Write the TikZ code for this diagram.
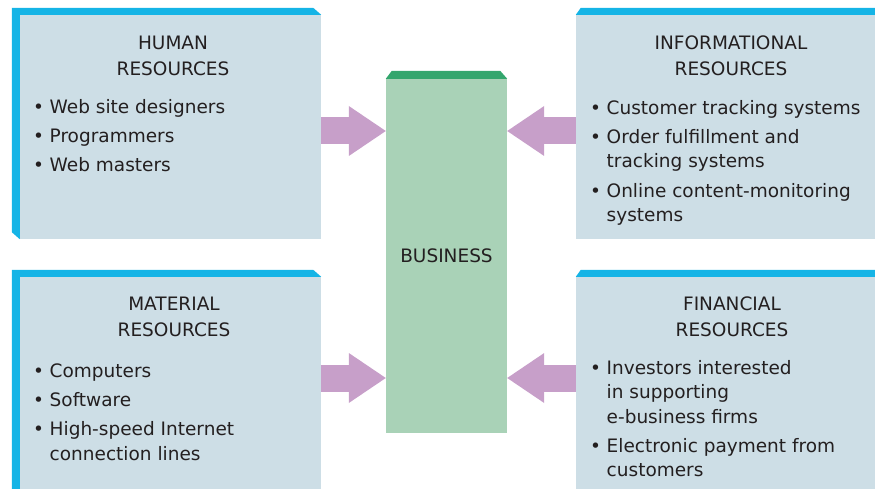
\documentclass[tikz,border=0pt]{standalone}
\usepackage{fontspec}
\setmainfont{DejaVu Sans}
\usetikzlibrary{positioning,arrows.meta}

\definecolor{boxbg}{HTML}{CDDEE6}
\definecolor{boxedge}{HTML}{15B4E6}
\definecolor{arrowc}{HTML}{C79FC9}
\definecolor{bizbg}{HTML}{A9D2B7}
\definecolor{biztop}{HTML}{33A66D}
\definecolor{ink}{HTML}{231F20}

\newcommand{\itm}{\makebox[16.5pt][l]{\textbullet}}
\newcommand{\cnt}{\makebox[16.5pt][l]{}}

\begin{document}
\begin{tikzpicture}[
  x=1pt, y=-1pt,
  font=\fontsize{18.5}{24.5}\selectfont, text=ink,
  res/.style={fill=boxbg, inner sep=0pt, minimum width=301pt, minimum height=224pt},
  resl/.style={res, minimum height=212pt},
  resr/.style={res, minimum width=299pt},
  resrl/.style={resr, minimum height=212pt},
  edge/.style={fill=boxedge},
  head/.style={anchor=base, align=center, inner sep=0pt, font=\fontsize{18.5}{26}\selectfont},
  list/.style={anchor=base west, align=left, inner sep=0pt},
  biz/.style={fill=bizbg, inner sep=0pt, minimum width=121pt, minimum height=354pt},
  fat/.style={line width=27pt, draw=arrowc, -{Triangle[width=50pt,length=37pt,line width=0pt]}}
]
\useasboundingbox (0,0) rectangle (875,489);

% Resource boxes
\node[res] (hr) at (170.5,127) {};
\node[resl] (mr) at (170.5,383) {};
\node[resr] (ir) at (725.5,127) {};
\node[resrl] (fr) at (725.5,383) {};

% Blue edges
\fill[edge] ([shift={(-8,-7)}]hr.north west) -- ([shift={(-8,-7)}]hr.north east) -- (hr.north east)
  -- (hr.north west) -- (hr.south west) -- ([shift={(-8,-7)}]hr.south west) -- cycle;
\fill[edge] ([shift={(-8,-7)}]mr.north west) -- ([shift={(-8,-7)}]mr.north east) -- (mr.north east)
  -- (mr.north west) -- (mr.south west) -- ([shift={(-8,0)}]mr.south west) -- cycle;
\fill[edge] (ir.north west) -- ([shift={(5,-7)}]ir.north west) -- ([shift={(0,-7)}]ir.north east) -- (ir.north east) -- cycle;
\fill[edge] (fr.north west) -- ([shift={(5,-7)}]fr.north west) -- ([shift={(0,-7)}]fr.north east) -- (fr.north east) -- cycle;

% Business
\node[biz] (bz) at (446.5,256) {BUSINESS};
\fill[biztop] (bz.north west) -- ([shift={(6,-8)}]bz.north west) -- ([shift={(-7,-8)}]bz.north east) -- (bz.north east) -- cycle;

% Headings (base = last line)
\node[head] (hh) at (173,76) {HUMAN\\RESOURCES};
\node[head] (ih) at (731,76) {INFORMATIONAL\\RESOURCES};
\node[head] (mh) at (174,336.5) {MATERIAL\\RESOURCES};
\node[head] (fh) at (732,336.5) {FINANCIAL\\RESOURCES};

% Lists (base = last line)
\node[list] (hl) at (33,172) {\itm Web site designers\\[4.8pt]\itm Programmers\\[4.8pt]\itm Web masters};
\node[list] (il) at (590,221.5) {\itm Customer tracking systems\\[4.6pt]\itm Order fulfillment and\\\cnt tracking systems\\[4.6pt]
  \itm Online content-monitoring\\\cnt systems};
\node[list] (ml) at (33,460) {\itm Computers\\[4.6pt]\itm Software\\[4.6pt]\itm High-speed Internet\\\cnt connection lines};
\node[list] (fl) at (590,476.5) {\itm Investors interested\\\cnt in supporting\\\cnt e-business firms\\[4.2pt]
  \itm Electronic payment from\\\cnt customers};

% Arrows
\draw[fat] ([yshift=-4pt]hr.east) -- ([yshift=-4pt]hr.east -| bz.west);
\draw[fat] ([yshift=-4pt]ir.west) -- ([yshift=-4pt]ir.west -| bz.east);
\draw[fat] ([yshift=5pt]mr.east) -- ([yshift=5pt]mr.east -| bz.west);
\draw[fat] ([yshift=5pt]fr.west) -- ([yshift=5pt]fr.west -| bz.east);

\end{tikzpicture}
\end{document}
